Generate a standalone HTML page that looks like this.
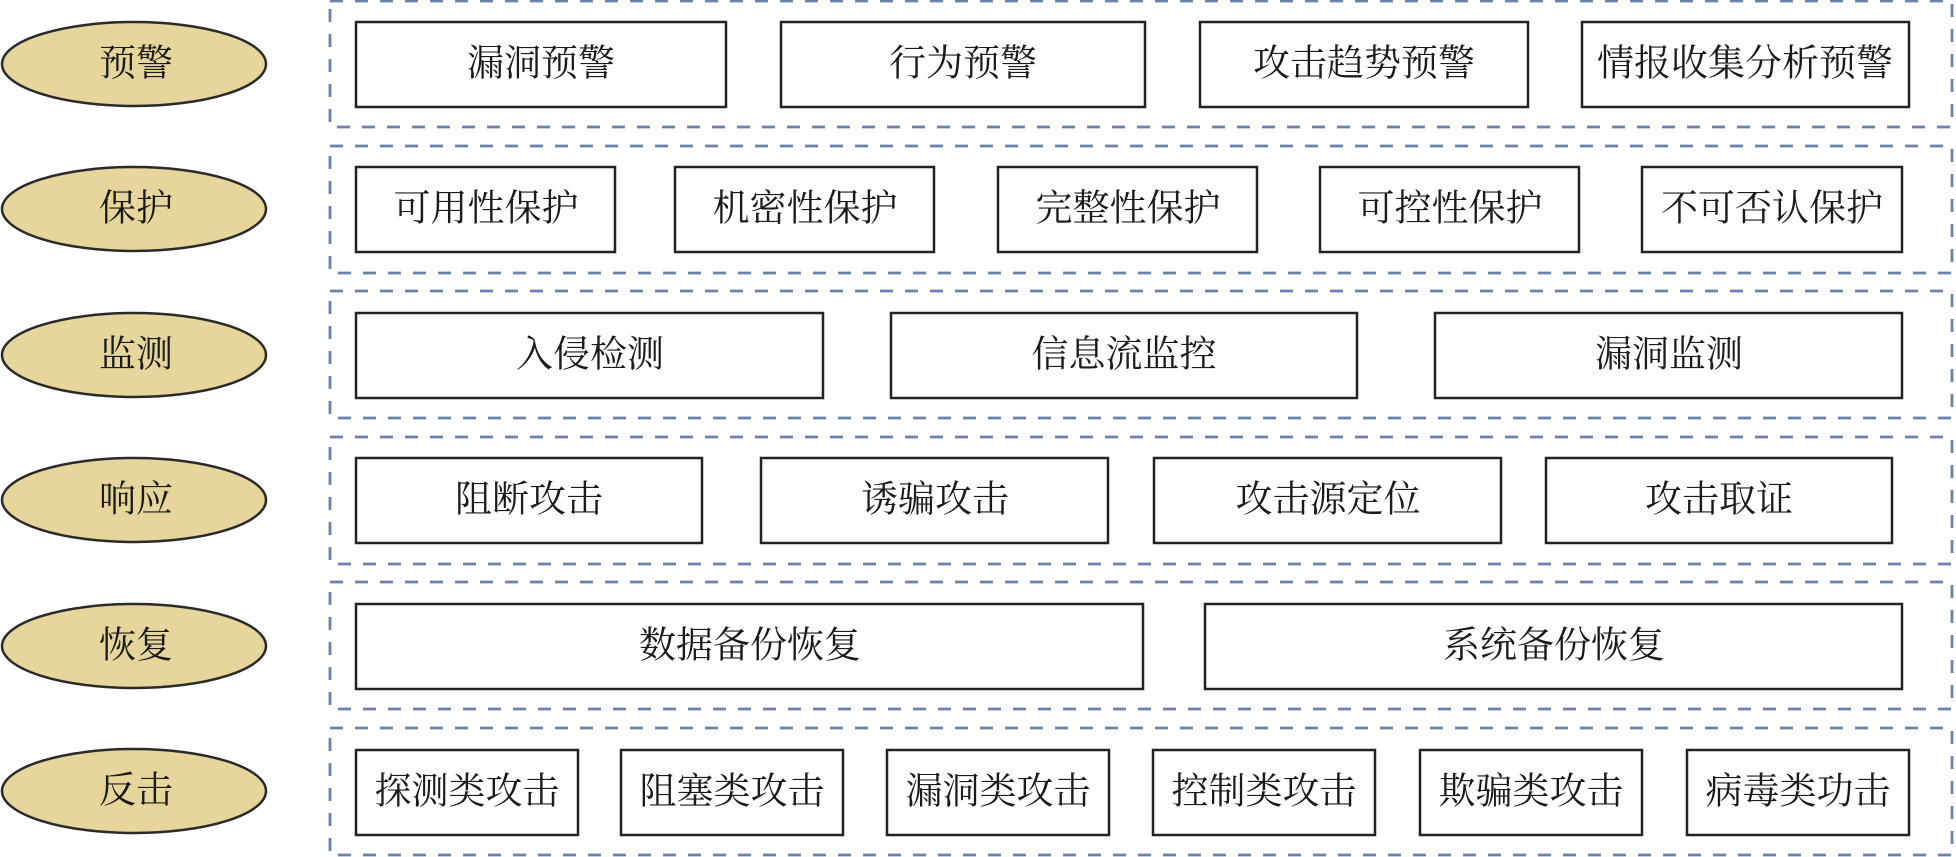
<!DOCTYPE html>
<html><head><meta charset="utf-8"><style>
html,body{margin:0;padding:0;background:#fff;overflow:hidden;}
svg{display:block;}
text{font-family:"Liberation Serif","Noto Serif CJK SC",serif;font-size:37px;fill:#1a1a1a;text-anchor:middle;dominant-baseline:central;}
</style></head><body>
<svg width="1956" height="857" viewBox="0 0 1956 857" xmlns="http://www.w3.org/2000/svg">
<defs>
<style>
.d{fill:none;stroke:#6a82ad;stroke-width:2.8;stroke-dasharray:13 12;}
.b{fill:#fff;stroke:#222;stroke-width:2.5;}
.e{fill:#e6d69b;stroke:#2a2a2a;stroke-width:2.5;}
</style>
</defs>
<rect class="d" x="330" y="1" width="1622" height="126"/>
<ellipse class="e" cx="134" cy="64" rx="132" ry="42"/><text x="136" y="64">预警</text>
<rect class="b" x="356" y="22" width="370" height="85"/><text x="541" y="64">漏洞预警</text>
<rect class="b" x="781" y="22" width="364" height="85"/><text x="963" y="64">行为预警</text>
<rect class="b" x="1200" y="22" width="328" height="85"/><text x="1364" y="64">攻击趋势预警</text>
<rect class="b" x="1582" y="22" width="327" height="85"/><text x="1745" y="64">情报收集分析预警</text>
<rect class="d" x="330" y="146" width="1622" height="127"/>
<ellipse class="e" cx="134" cy="209" rx="132" ry="42"/><text x="136" y="209">保护</text>
<rect class="b" x="356" y="167" width="259" height="85"/><text x="486" y="209">可用性保护</text>
<rect class="b" x="675" y="167" width="259" height="85"/><text x="805" y="209">机密性保护</text>
<rect class="b" x="998" y="167" width="259" height="85"/><text x="1128" y="209">完整性保护</text>
<rect class="b" x="1320" y="167" width="259" height="85"/><text x="1450" y="209">可控性保护</text>
<rect class="b" x="1642" y="167" width="260" height="85"/><text x="1772" y="209">不可否认保护</text>
<rect class="d" x="330" y="291" width="1622" height="127"/>
<ellipse class="e" cx="134" cy="355" rx="132" ry="42"/><text x="136" y="355">监测</text>
<rect class="b" x="356" y="313" width="467" height="85"/><text x="590" y="355">入侵检测</text>
<rect class="b" x="891" y="313" width="466" height="85"/><text x="1124" y="355">信息流监控</text>
<rect class="b" x="1435" y="313" width="467" height="85"/><text x="1669" y="355">漏洞监测</text>
<rect class="d" x="330" y="437" width="1622" height="127"/>
<ellipse class="e" cx="134" cy="500" rx="132" ry="42"/><text x="136" y="500">响应</text>
<rect class="b" x="356" y="458" width="346" height="85"/><text x="529" y="500">阻断攻击</text>
<rect class="b" x="761" y="458" width="347" height="85"/><text x="935" y="500">诱骗攻击</text>
<rect class="b" x="1154" y="458" width="347" height="85"/><text x="1328" y="500">攻击源定位</text>
<rect class="b" x="1546" y="458" width="346" height="85"/><text x="1719" y="500">攻击取证</text>
<rect class="d" x="330" y="582" width="1622" height="127"/>
<ellipse class="e" cx="134" cy="646" rx="132" ry="42"/><text x="136" y="646">恢复</text>
<rect class="b" x="356" y="604" width="787" height="85"/><text x="750" y="646">数据备份恢复</text>
<rect class="b" x="1205" y="604" width="697" height="85"/><text x="1554" y="646">系统备份恢复</text>
<rect class="d" x="330" y="728" width="1622" height="127"/>
<ellipse class="e" cx="134" cy="791" rx="132" ry="42"/><text x="136" y="791">反击</text>
<rect class="b" x="356" y="750" width="222" height="85"/><text x="467" y="792">探测类攻击</text>
<rect class="b" x="621" y="750" width="222" height="85"/><text x="732" y="792">阻塞类攻击</text>
<rect class="b" x="887" y="750" width="222" height="85"/><text x="998" y="792">漏洞类攻击</text>
<rect class="b" x="1153" y="750" width="222" height="85"/><text x="1264" y="792">控制类攻击</text>
<rect class="b" x="1420" y="750" width="222" height="85"/><text x="1531" y="792">欺骗类攻击</text>
<rect class="b" x="1687" y="750" width="222" height="85"/><text x="1798" y="792">病毒类功击</text>
</svg>
</body></html>
